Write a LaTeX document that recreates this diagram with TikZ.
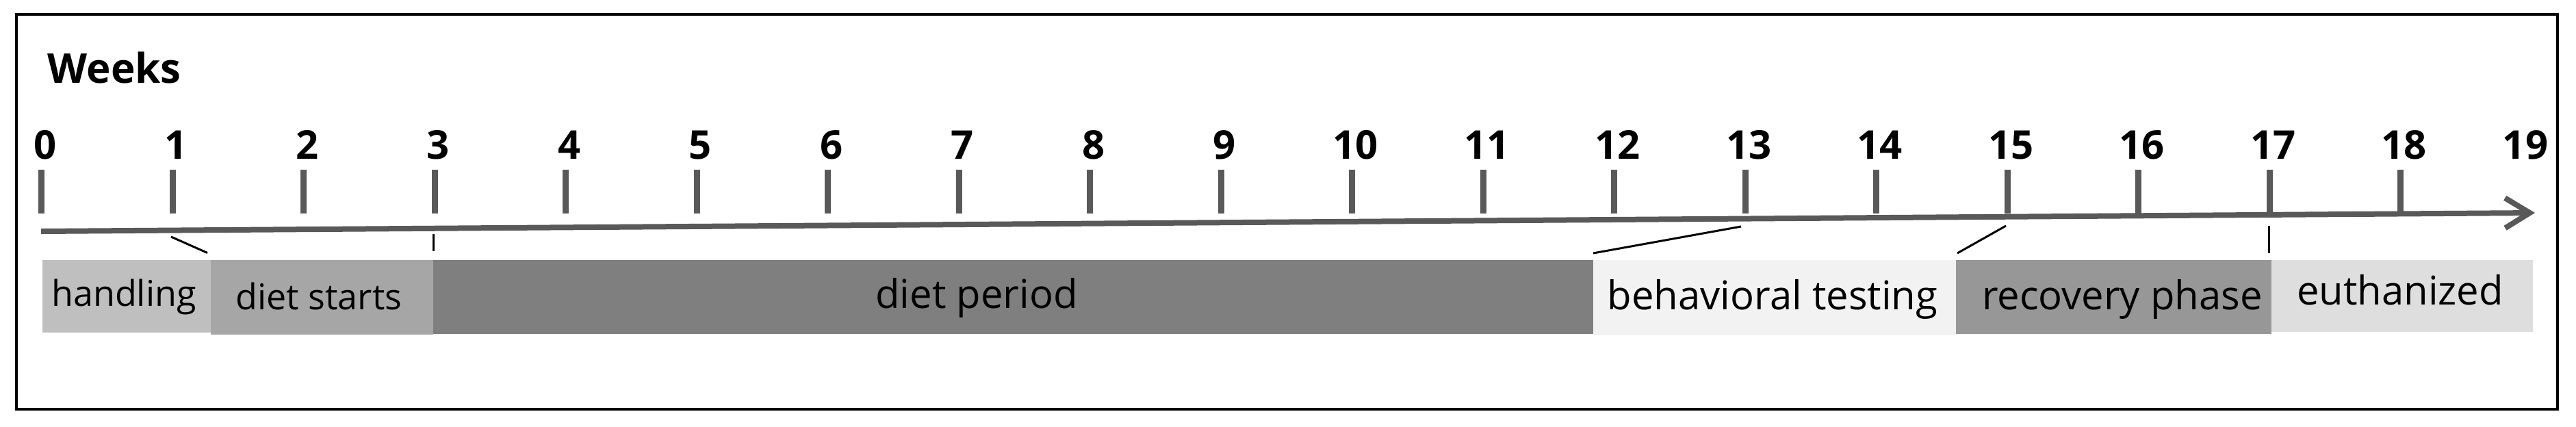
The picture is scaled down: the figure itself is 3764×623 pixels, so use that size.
\documentclass[tikz,border=0pt]{standalone}
\usepackage{fontspec}
\setmainfont{Open Sans}
\usetikzlibrary{arrows.meta}
\definecolor{axisgray}{HTML}{595959}
\definecolor{cHand}{HTML}{BFBFBF}
\definecolor{cStart}{HTML}{A6A6A6}
\definecolor{cDiet}{HTML}{7F7F7F}
\definecolor{cBeh}{HTML}{F2F2F2}
\definecolor{cRec}{HTML}{979797}
\definecolor{cEuth}{HTML}{DEDEDE}
\begin{document}
\begin{tikzpicture}[x=0.25pt,y=-0.25pt,
  bar/.style={draw=none,inner sep=0pt,outer sep=0pt,anchor=north west},
  bartext/.style={inner sep=0pt,anchor=base,font=\fontsize{14.5pt}{16pt}\selectfont},
  smalltext/.style={inner sep=0pt,anchor=base,font=\fontsize{13pt}{15pt}\selectfont},
  weeklabel/.style={inner sep=0pt,anchor=base,font=\fontsize{14.5pt}{16pt}\selectfont\bfseries},
  tickmark/.style={draw=axisgray,line width=2.2pt},
  axisline/.style={draw=axisgray,line width=2pt,-{Straight Barb[length=9pt,width=11pt]}},
  link/.style={draw=black,line width=0.75pt}]
\useasboundingbox (0,0) rectangle (3764,623);
% frame
\draw[line width=0.9pt] (24,21) rectangle (3737,598);
% title
\node[weeklabel,anchor=base west,font=\fontsize{15pt}{17pt}\selectfont\bfseries] (weeks) at (69,121) {Weeks};
% ticks and labels
\foreach \k in {0,...,18}{
  \draw[tickmark] (60.6+191.5*\k,248) -- (60.6+191.5*\k,312);
  \node[weeklabel] (lab\k) at (65.6+191.5*\k,232) {\k};
}
\node[weeklabel] (lab19) at (3690,232) {19};
% axis
\coordinate (axs) at (60,338);
\coordinate (axe) at (3704,311);
\draw[axisline] (axs) -- (axe);
% bars
\node[bar,fill=cHand,minimum width=61.5pt,minimum height=26.5pt] (hand) at (62,380) {};
\node[bar,fill=cStart,minimum width=81.25pt,minimum height=27.25pt] (start) at (308,380) {};
\node[bar,fill=cDiet,minimum width=423.75pt,minimum height=27pt] (diet) at (633,380) {};
\node[bar,fill=cBeh,minimum width=132.5pt,minimum height=27.5pt] (beh) at (2328,380) {};
\node[bar,fill=cRec,minimum width=115.25pt,minimum height=27pt] (rec) at (2858,380) {};
\node[bar,fill=cEuth,minimum width=95.5pt,minimum height=26.25pt] (euth) at (3319,380) {};
% bar texts
\node[smalltext] (thand) at (181,447) {handling};
\node[smalltext] (tstart) at (466,452) {diet starts};
\node[bartext] (tdiet) at (1427,450) {diet period};
\node[bartext] (tbeh) at (2590,452) {behavioral testing};
\node[bartext] (trec) at (3101,452) {recovery phase};
\node[bartext] (teuth) at (3507,445) {euthanized};
% connector lines
\coordinate (l1a) at (250,346); \coordinate (l1b) at (303,369.5);
\coordinate (l3a) at (633,342); \coordinate (l3b) at (633,367);
\coordinate (l13a) at (2544,331); \coordinate (l13b) at (2328,370);
\coordinate (l15a) at (2931,330); \coordinate (l15b) at (2860,370);
\coordinate (l17a) at (3315,330); \coordinate (l17b) at (3315,370);
\draw[link] (l1a) -- (l1b);
\draw[link] (l3a) -- (l3b);
\draw[link] (l13a) -- (l13b);
\draw[link] (l15a) -- (l15b);
\draw[link] (l17a) -- (l17b);
\end{tikzpicture}
\end{document}
